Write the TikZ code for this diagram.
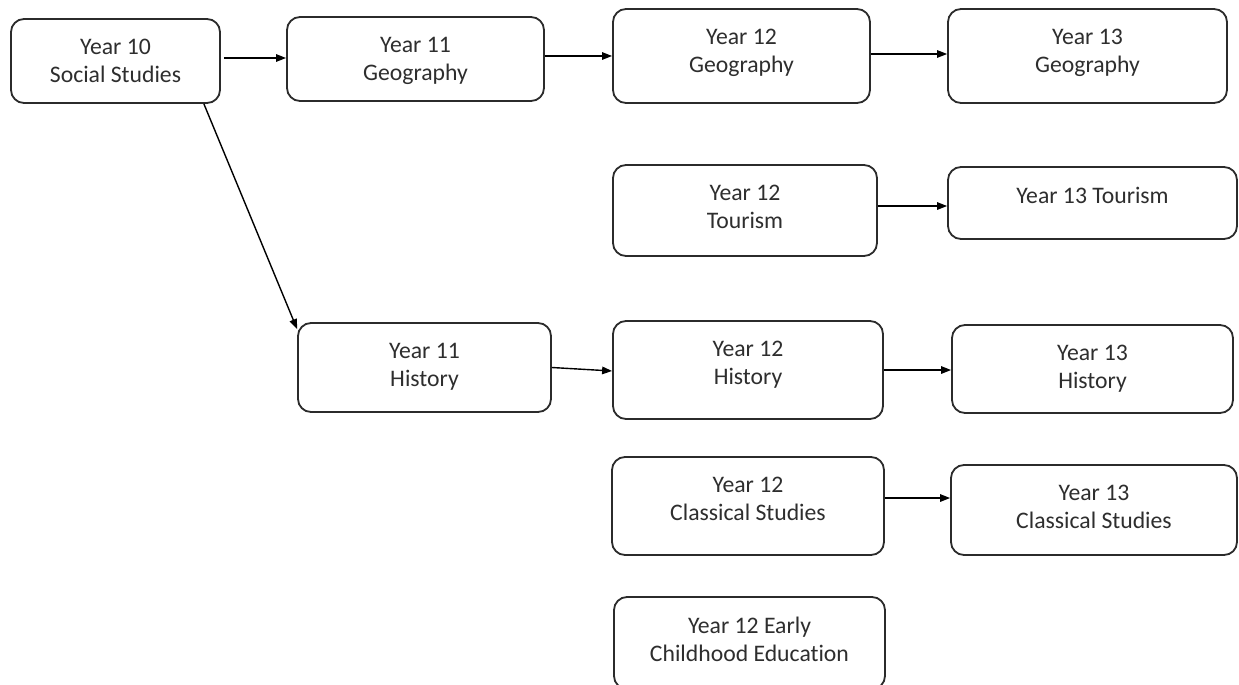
\documentclass[tikz,border=0pt]{standalone}
\usepackage{fontspec}
\setmainfont{Carlito}[Ligatures=NoCommon]
\usetikzlibrary{arrows.meta}
\definecolor{lineclr}{HTML}{2B2B2B}
\definecolor{textclr}{HTML}{2E2E2E}
\tikzset{
  box/.style 2 args={draw=lineclr, line width=1.8pt, rounded corners=13pt,
    minimum width=#1pt, minimum height=#2pt, inner sep=0pt, fill=white},
  txt/.style={anchor=north, inner sep=0pt, align=center, text=textclr,
    font=\fontsize{23.7}{28}\selectfont, yshift=-21pt},
  arr/.style={draw=black, line width=1.4pt, -{Triangle[length=10pt,width=7.5pt]}}
}
\begin{document}
\begin{tikzpicture}[x=1pt,y=-1pt]
\useasboundingbox (0,0) rectangle (1239,685);
\node[box={209}{84}, label={[txt]north:{Year 10\\Social Studies}}] (ss) at (115.5,61) {};
\node[box={257}{84}, label={[txt]north:{Year 11\\Geography}}] (g11) at (415.5,59) {};
\node[box={257}{94}, label={[txt]north:{Year 12\\Geography}}] (g12) at (741.5,56) {};
\node[box={279}{94}, label={[txt]north:{Year 13\\Geography}}] (g13) at (1087.5,56) {};
\node[box={264}{91}, label={[txt]north:{Year 12\\Tourism}}] (t12) at (745,210.5) {};
\node[box={289}{72}, label={[txt]north:{Year 13 Tourism}}] (t13) at (1092.5,203) {};
\node[box={253}{89}, label={[txt]north:{Year 11\\History}}] (h11) at (424.5,367.5) {};
\node[box={270}{98}, label={[txt]north:{Year 12\\History}}] (h12) at (748,370) {};
\node[box={281}{88}, label={[txt]north:{Year 13\\History}}] (h13) at (1092.5,369) {};
\node[box={272}{98}, label={[txt]north:{Year 12\\Classical Studies}}] (c12) at (748,506) {};
\node[box={286}{90}, label={[txt]north:{Year 13\\Classical Studies}}] (c13) at (1094,510) {};
\node[box={271}{92}, label={[txt]north:{Year 12 Early\\Childhood Education}}] (e12) at (749.5,643) {};
% connectors
\draw[arr] ([xshift=3pt,yshift=3pt]ss.east) -- ([yshift=3pt]ss.east -| g11.west);
\draw[arr] ([yshift=3pt]g11.east) -- ([yshift=3pt]g11.east -| g12.west);
\draw[arr] ([yshift=2pt]g12.east) -- ([yshift=2pt]g12.east -| g13.west);
\draw[arr] ([yshift=4.5pt]t12.east) -- ([yshift=4.5pt]t12.east -| t13.west);
\draw[arr] ([xshift=-17pt]ss.south east) -- ([yshift=-7pt]h11.north west);
\draw[arr] (h11.east) -- ([yshift=-1pt]h12.west);
\draw[arr] (h12.east) -- (h12.east -| h13.west);
\draw[arr] ([yshift=8pt]c12.east) -- ([yshift=8pt]c12.east -| c13.west);
\end{tikzpicture}
\end{document}
